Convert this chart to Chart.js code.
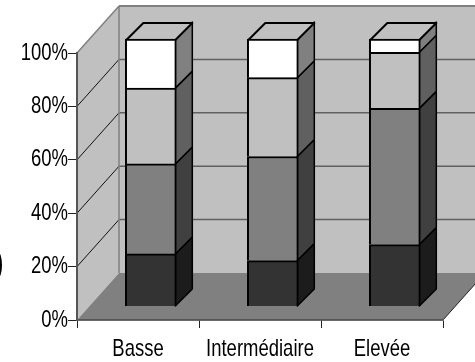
<!DOCTYPE html>
<html>
<head>
<meta charset="utf-8">
<style>
html, body { margin: 0; padding: 0; background: #fff; }
#wrap { position: relative; width: 475px; height: 362px; overflow: hidden; }
</style>
<script src="https://cdn.jsdelivr.net/npm/chart.js@4"></script>
</head>
<body>
<div id="wrap"><canvas id="chart" width="475" height="362"></canvas></div>
<script>
var categories = ['Basse', 'Intermédiaire', 'Elevée'];
var barSlots = [0, 1, 2];
var serie1 = [19.5, 17, 23];
var serie2 = [33.7, 39, 51];
var serie3 = [28.4, 29.5, 21];
var serie4 = [18.4, 14.5, 5];
var yTicks = [0, 20, 40, 60, 80, 100];

var frontColors = ['#333333', '#808080', '#c0c0c0', '#ffffff'];
var sideColors = ['#1c1c1c', '#404040', '#606060', '#808080'];
var wallDx = 42, wallDy = -47;
var barDx = 17, barDy = -17;
var font = '"Liberation Sans", Arial, sans-serif';
var squeeze = 0.77;

function poly(ctx, pts, fill, stroke, lw) {
  ctx.beginPath();
  ctx.moveTo(pts[0][0], pts[0][1]);
  for (var i = 1; i < pts.length; i++) {
    ctx.lineTo(pts[i][0], pts[i][1]);
  }
  ctx.closePath();
  if (fill) { ctx.fillStyle = fill; ctx.fill(); }
  if (stroke) { ctx.strokeStyle = stroke; ctx.lineWidth = lw; ctx.stroke(); }
}
function line(ctx, x1, y1, x2, y2, color, lw) {
  ctx.beginPath();
  ctx.moveTo(x1, y1);
  ctx.lineTo(x2, y2);
  ctx.strokeStyle = color;
  ctx.lineWidth = lw;
  ctx.stroke();
}
// the reference text is squashed sideways, maxWidth gives the same look
function narrowText(ctx, txt, x, y) {
  ctx.fillText(txt, x, y, ctx.measureText(txt).width * squeeze);
}

var walls = {
  id: 'walls',
  beforeDraw: function(chart) {
    var ctx = chart.ctx, a = chart.chartArea, y = chart.scales.y;
    var bx = a.left + wallDx;
    var topY = y.getPixelForValue(100), botY = y.getPixelForValue(0);
    ctx.save();
    poly(ctx, [[a.left, topY], [bx, topY + wallDy], [bx, botY + wallDy], [a.left, botY]], '#c0c0c0');
    poly(ctx, [[bx, topY + wallDy], [a.right + wallDx, topY + wallDy], [a.right + wallDx, botY + wallDy], [bx, botY + wallDy]], '#c0c0c0');
    yTicks.forEach(function(t){
      if (t === 0 || t === 100) return;
      var py = y.getPixelForValue(t);
      line(ctx, a.left, py, bx, py + wallDy, '#111111', 1);
      line(ctx, bx, py + wallDy, a.right + wallDx, py + wallDy, '#606060', 1.5);
    });
    poly(ctx, [[a.left, botY], [a.right, botY], [a.right + wallDx, botY + wallDy], [bx, botY + wallDy]], '#808080');
    line(ctx, a.left, topY, bx, topY + wallDy, '#808080', 1.5);
    line(ctx, bx, topY + wallDy, a.right + wallDx, topY + wallDy, '#808080', 2);
    line(ctx, bx, topY + wallDy, bx, botY + wallDy, '#808080', 1.5);
    line(ctx, a.right, botY, a.right + wallDx, botY + wallDy, '#222222', 1);
    line(ctx, a.left, botY, a.right, botY, '#555555', 1.5);
    // stray bracket cut by the left edge of the picture
    ctx.fillStyle = '#000000';
    ctx.font = 'bold 38px ' + font;
    ctx.textBaseline = 'middle';
    ctx.textAlign = 'right';
    ctx.fillText(')', 4, 265);
    ctx.restore();
  },
  beforeDatasetsDraw: function(chart) {
    var ctx = chart.ctx;
    ctx.save();
    ctx.lineJoin = 'round';
    chart.data.datasets.forEach(function(ds, d) {
      chart.getDatasetMeta(d).data.forEach(function(bar) {
        var r = bar.x + bar.width / 2 - 1, l = bar.x - bar.width / 2 + 1;
        poly(ctx, [[r, bar.base], [r + barDx, bar.base + barDy], [r + barDx, bar.y + barDy], [r, bar.y]], sideColors[d], '#000000', 1.5);
        if (d === chart.data.datasets.length - 1) {
          poly(ctx, [[l, bar.y + 1], [l + barDx, bar.y + 1 + barDy], [r + barDx, bar.y + 1 + barDy], [r, bar.y + 1]], '#c0c0c0', '#000000', 2);
        }
      });
    });
    ctx.restore();
  },
  // tick labels, placed from the scales
  afterDraw: function(chart) {
    var ctx = chart.ctx, sx = chart.scales.x, sy = chart.scales.y;
    ctx.save();
    ctx.fillStyle = '#000000';
    ctx.font = '24px ' + font;
    ctx.textBaseline = 'middle';
    ctx.textAlign = 'right';
    sy.ticks.forEach(function(t, i) {
      narrowText(ctx, t.label, sy.left + 68, sy.getPixelForTick(i));
    });
    ctx.textAlign = 'center';
    sx.ticks.forEach(function(t, i) {
      narrowText(ctx, t.label, sx.getPixelForTick(i), sx.bottom - 13);
    });
    ctx.restore();
  }
};

function seriesData(values) {
  return values.map(function(v, i){ return {x: barSlots[i], y: v}; });
}

new Chart(document.getElementById('chart').getContext('2d'), {
  type: 'bar',
  data: {
    labels: categories,
    datasets: [serie1, serie2, serie3, serie4].map(function(values, i) {
      return {
        data: seriesData(values),
        xAxisID: 'xBars',
        yAxisID: 'yBars',
        backgroundColor: frontColors[i],
        borderColor: '#000000',
        borderWidth: 2,
        barThickness: 51,
        clip: false
      };
    })
  },
  plugins: [walls],
  options: {
    responsive: false,
    animation: false,
    layout: { padding: { top: 53, right: 32, left: 0, bottom: 0 } },
    plugins: { legend: { display: false }, tooltip: { enabled: false }, title: { display: false } },
    scales: {
      x: {
        type: 'category',
        labels: categories,
        afterFit: function(s) { s.height = 42; },
        offset: true,
        border: { color: '#555555', width: 1.5 },
        grid: { offset: true, drawOnChartArea: false, tickLength: 8, color: '#222222', lineWidth: 1 },
        ticks: { display: false }
      },
      y: {
        type: 'linear',
        min: 0,
        max: 100,
        afterFit: function(s) { s.width = 77; },
        afterBuildTicks: function(s) { s.ticks = yTicks.map(function(v){ return {value: v}; }); },
        border: { color: '#555555', width: 2 },
        grid: { drawOnChartArea: false, tickLength: 9, color: '#222222', lineWidth: 1 },
        ticks: { display: false, callback: function(v){ return v + '%'; } }
      },
      // same pixel scale as the axes, shifted to the middle of the floor depth
      xBars: { type: 'linear', display: false, offset: false, stacked: true, min: -0.605, max: 2.395 },
      yBars: { type: 'linear', display: false, stacked: true, min: -5.25, max: 94.75 }
    }
  }
});
</script>
</body>
</html>
